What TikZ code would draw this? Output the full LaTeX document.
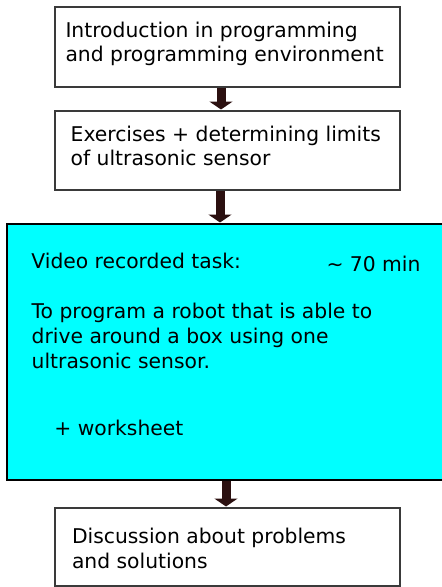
\documentclass[tikz,border=0pt]{standalone}
\usepackage{fontspec}
\setmainfont{DejaVu Sans}
\usetikzlibrary{arrows.meta}
\definecolor{boxline}{HTML}{3A3A3A}
\definecolor{arrowc}{HTML}{2B1010}
\definecolor{cyanfill}{HTML}{00FFFF}
\begin{document}
\begin{tikzpicture}[x=1pt,y=-1pt,
  box/.style={draw=boxline, line width=1.3pt, anchor=north west, inner sep=0pt, outer sep=0pt},
  txt/.style={anchor=base west, inner sep=0pt, outer sep=0pt, font=\fontsize{20.3}{24}\selectfont, text=black},
  flow/.style={draw=arrowc, line width=9pt, -{Triangle[width=23pt,length=8pt]}, shorten >=1.5pt, shorten <=0.7pt}
]
\fill[white] (0,0) rectangle (442,587);
\useasboundingbox (0,0) rectangle (442,587);
% boxes
\node[box, fill=white, minimum width=345pt, minimum height=80pt] (b1) at (55,7) {};
\node[box, fill=white, minimum width=345pt, minimum height=79pt] (b2) at (55,111) {};
\node[box, draw=black, fill=cyanfill, minimum width=438pt, minimum height=256pt] (c) at (7,224) {};
\node[box, fill=white, minimum width=345pt, minimum height=78pt] (b4) at (55,508) {};
% texts
\node[txt] (t1a) at (65.5,37.7) {Introduction in programming};
\node[txt] (t1b) at (65.5,61.7) {and programming environment};
\node[txt] (t2a) at (70.7,141.7) {Exercises + determining limits};
\node[txt] (t2b) at (70.7,165.7) {of ultrasonic sensor};
\node[txt] (t3a) at (31.4,268.3) {Video recorded task:};
\node[txt] (t3t) at (326.5,271.7) {\textasciitilde{} 70 min};
\node[txt] (t3b) at (31.7,318.3) {To program a robot that is able to};
\node[txt] (t3c) at (31.7,343.3) {drive around a box using one};
\node[txt] (t3d) at (31.7,368.3) {ultrasonic sensor.};
\node[txt] (t3e) at (54.4,435) {+ worksheet};
\node[txt] (t4a) at (72,543.3) {Discussion about problems};
\node[txt] (t4b) at (72,568.3) {and solutions};
% arrows
\draw[flow] ([xshift=-6.5pt]b1.south) -- ([xshift=-6.5pt]b2.north);
\draw[flow] ([xshift=-7.5pt]b2.south) -- ([xshift=-7.5pt]b2.south |- c.north);
\draw[flow] (c.south) -- (c.south |- b4.north);
\end{tikzpicture}
\end{document}
